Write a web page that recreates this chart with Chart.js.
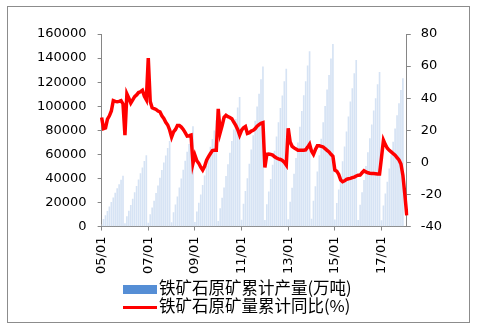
<!DOCTYPE html>
<html>
<head>
<meta charset="utf-8">
<script src="https://cdn.jsdelivr.net/npm/chart.js@4.4.1/dist/chart.umd.min.js"></script>
<style>
    body { margin: 0; background: #fff; }
    #wrap { position: relative; width: 483px; height: 328px; }
    #frame { position: absolute; left: 7px; top: 6px; width: 463px; height: 317px; border: 1px solid #8c8c8c; box-sizing: border-box; }
    .legend { position: absolute; left: 123px; font-family: "Noto Sans CJK SC", sans-serif; font-size: 16.5px; color: #000; }
    .legend div { height: 18px; line-height: 18px; white-space: nowrap; }
    .legend span.box { display: inline-block; width: 34px; height: 9px; background: #558ed5; vertical-align: middle; margin-right: 2px; }
    .legend span.ln { display: inline-block; width: 34px; height: 3px; background: #ff0000; vertical-align: middle; margin-right: 2px; }
</style>
</head>
<body>
<div id="wrap">
    <canvas id="chart" width="483" height="328"></canvas>
    <div id="frame"></div>
    <div class="legend" style="top: 278px;">
        <div><span class="box"></span>铁矿石原矿累计产量(万吨)</div>
        <div><span class="ln"></span>铁矿石原矿量累计同比(%)</div>
    </div>
</div>
<script>
// months 2005/01 .. 2018/02
const years = ['05', '06', '07', '08', '09', '10', '11', '12', '13', '14', '15', '16', '17', '18'];
const months = ['01', '02', '03', '04', '05', '06', '07', '08', '09', '10', '11', '12'];

// cumulative output, 10k tonnes
const output = [
    1700, 5900, 9200, 12600, 16400, 20200, 23900, 27700, 31500, 34900, 38600, 42000,
    2400, 8200, 12900, 17600, 22900, 28200, 33500, 38800, 44100, 48800, 54100, 59000,
    2800, 9900, 15600, 21200, 27600, 33900, 40300, 46700, 53000, 58700, 65000, 70900,
    3300, 11500, 18100, 24700, 32100, 39600, 47000, 54400, 61800, 68400, 75800, 83000,
    3500, 12300, 19400, 26400, 34300, 42200, 50200, 58100, 66000, 72500, 79500, 88000,
    4300, 15000, 23600, 32200, 41800, 51500, 61100, 70800, 80400, 89000, 98600, 107300,
    5300, 18600, 29200, 39800, 51800, 63700, 75600, 87600, 99500, 110100, 122100, 132800,
    5200, 18300, 28800, 39300, 51100, 62800, 74600, 86400, 98200, 108600, 120400, 130900,
    5800, 20300, 31900, 43500, 56600, 69600, 82700, 95800, 108800, 120400, 133500, 145300,
    6100, 21200, 33300, 45400, 59000, 72700, 86300, 99900, 113600, 125700, 139300, 151400,
    5500, 19300, 30400, 41400, 53900, 66300, 78700, 91100, 103600, 114600, 127100, 138200,
    5100, 17900, 28200, 38400, 50000, 61500, 73000, 84500, 96100, 106300, 117900, 128100,
    4900, 17200, 27100, 36900, 48000, 59000, 70100, 81200, 92300, 102100, 113200, 123000,
    null, null
];

// cumulative YoY, %
const yoy = [
    28, 21, 21.5, 27, 29, 32, 38.5, 38, 37.8, 38, 38.5, 36.4,
    17, 42.7, 40, 37, 39, 41, 42, 43.5, 44, 44.9, 41.2, 39,
    65, 38, 34, 33.5, 33, 32, 31.5, 29, 27.4, 25, 23.3, 20.2,
    15.8, 19, 20.5, 23, 23, 22, 20.5, 18.5, 16.4, 16.6, 17, -0.6,
    4.5, 1, -0.6, -3, -4.8, -2.5, 1.4, 3.5, 5.5, 7.3, 7.5, 7.5,
    33.4, 18.5, 23, 28, 29.3, 28.5, 28, 27.2, 25, 23, 20.5, 17,
    20, 21.5, 22.3, 18, 18.5, 19.5, 20, 21, 22.5, 23.5, 24.3, 24.7,
    -3.2, 5, 5.2, 5, 4.5, 3.5, 2.7, 2.2, 1.8, 1.2, 0, -1.7,
    21.2, 12.7, 10, 9, 8.3, 7.6, 7.6, 7.6, 7.6, 7.8, 9.5, 11.3,
    7, 5, 8, 10.3, 10.3, 10, 9.6, 8.5, 7.5, 6.5, 5, 3.8,
    -4.8, -5.5, -7.5, -11, -12, -11.5, -10.6, -10.2, -10, -9.5, -9.2, -8.5,
    -8, -7.9, -6.5, -5.2, -6, -6.5, -6.8, -7, -7, -7.1, -7.2, -7.2,
    3, 13.8, 11, 8.8, 7.5, 6.5, 5.5, 4.5, 3, 1.5, -1, -8,
    -20, -33
];

const labels = [];
years.forEach(y => months.forEach(m => labels.push(y + '/' + m)));
labels.length = output.length;

const axisGray = '#868686';
const tickFont = { family: 'DejaVu Sans', size: 13 };
const plain = v => String(v);

new Chart(document.getElementById('chart'), {
    type: 'bar',
    data: {
        labels: labels,
        datasets: [{
            type: 'line',
            label: '铁矿石原矿量累计同比(%)',
            data: yoy,
            yAxisID: 'y1',
            borderColor: '#ff0000',
            borderWidth: 3.5,
            pointRadius: 0,
            tension: 0,
            order: 1
        }, {
            label: '铁矿石原矿累计产量(万吨)',
            data: output,
            yAxisID: 'y',
            backgroundColor: '#d6e3f4',
            barThickness: 1,
            order: 2
        }]
    },
    options: {
        responsive: false,
        animation: false,
        layout: { padding: { left: 26, right: 31, top: 34, bottom: 48 } },
        plugins: {
            legend: { display: false },
            tooltip: { enabled: false }
        },
        scales: {
            x: {
                offset: false,
                grid: { display: true, drawOnChartArea: false, offset: false, tickLength: 4, color: axisGray },
                border: { color: axisGray },
                ticks: {
                    autoSkip: false,
                    minRotation: 90,
                    maxRotation: 90,
                    padding: 6,
                    color: '#000',
                    font: tickFont,
                    callback: function (value, index) {
                        return index % 24 === 0 ? labels[index] : null;
                    }
                }
            },
            y: {
                position: 'left',
                min: 0,
                max: 160000,
                grid: { drawOnChartArea: false, tickLength: 4, color: axisGray },
                border: { color: axisGray },
                ticks: { stepSize: 20000, padding: 11, color: '#000', font: tickFont, callback: plain }
            },
            y1: {
                position: 'right',
                min: -40,
                max: 80,
                grid: { drawOnChartArea: false, tickLength: 4, color: axisGray },
                border: { color: axisGray },
                ticks: { stepSize: 20, padding: 10, color: '#000', font: tickFont, callback: plain }
            }
        }
    }
});
</script>
</body>
</html>
